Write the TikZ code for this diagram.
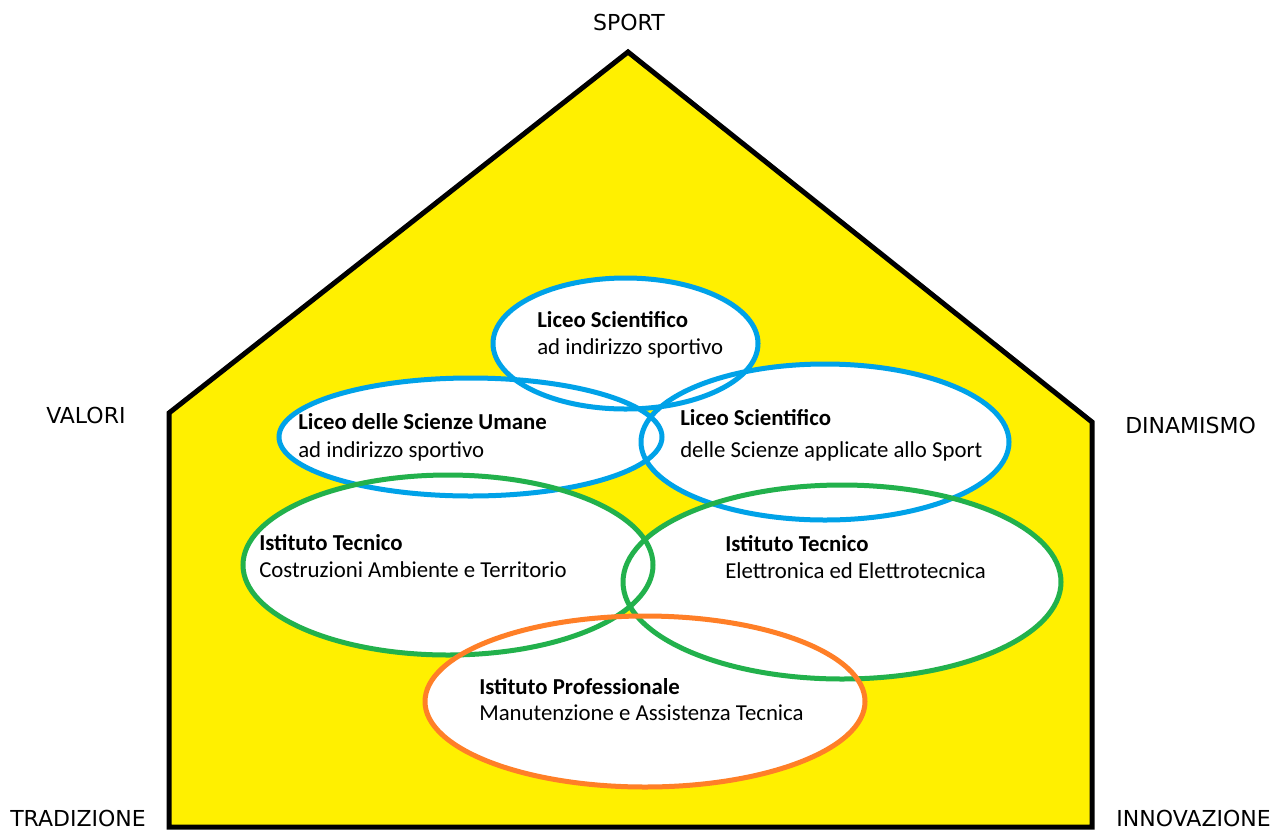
\documentclass[tikz,border=0pt]{standalone}
\usepackage{fontspec}
\setmainfont{Carlito}
\newfontfamily\etichettafont{DejaVu Sans}
\usepackage{tikz}
\usetikzlibrary{positioning}
\definecolor{giallo}{HTML}{FFF000}
\definecolor{blu}{HTML}{00A2E8}
\definecolor{verde}{HTML}{22B14C}
\definecolor{arancio}{HTML}{FF7F27}
\tikzset{titolo/.style={anchor=base west,inner sep=0pt,font=\fontsize{17.1}{20}\selectfont\bfseries},
	 sotto/.style={anchor=base west,inner sep=0pt,font=\fontsize{17.1}{20}\selectfont},
	 etichetta/.style={inner sep=0pt,font=\etichettafont\fontsize{16.5}{19}\selectfont},
	 bordo/.style={line width=3.75pt},
	 node distance = 1
	 }

\begin{document}
\begin{tikzpicture}[x=0.75pt,y=-0.75pt] % casa dello sport
        \useasboundingbox (0,0) rectangle (1274,829);
        % casa
        \coordinate (basesx) at (169,827);
        \coordinate (murosx) at (169,413);
        \coordinate (tetto) at (628,52);
        \coordinate (murodx) at (1092,422);
        \coordinate (basedx) at (1092,827);
        \filldraw[fill=giallo,bordo,line join=miter] (basesx) -- (murosx) -- (tetto) -- (murodx) -- (basedx) -- cycle;
        % ellissi
        \foreach \cx/\cy/\rx/\ry/\col in {625.5/343.5/132.5/65.5/blu, 470.5/437/191.5/59/blu, 825/442/184/78/blu,
                448/565/205/90/verde, 842/582/219/97/verde, 645/701.5/220/85.5/arancio}
            \fill[white] (\cx,\cy) ellipse [x radius=\rx, y radius=\ry];
        \foreach \cx/\cy/\rx/\ry/\col in {625.5/343.5/132.5/65.5/blu, 470.5/437/191.5/59/blu, 825/442/184/78/blu,
                448/565/205/90/verde, 842/582/219/97/verde, 645/701.5/220/85.5/arancio}
            \draw[\col,bordo] (\cx,\cy) ellipse [x radius=\rx, y radius=\ry];
        % testi
        \node[titolo] (lsa) at (537,327) {Liceo Scientifico};
        \node[sotto] (lsb) at (537,354) {ad indirizzo sportivo};
        \node[titolo] (lua) at (298,429) {Liceo delle Scienze Umane};
        \node[sotto] (lub) at (298,457) {ad indirizzo sportivo};
        \node[titolo] (lsaa) at (680,425) {Liceo Scientifico};
        \node[sotto] (lsab) at (680,457) {delle Scienze applicate allo Sport};
        \node[titolo] (itca) at (259,550) {Istituto Tecnico};
        \node[sotto] (itcb) at (259,577) {Costruzioni Ambiente e Territorio};
        \node[titolo] (itea) at (725,551) {Istituto Tecnico};
        \node[sotto] (iteb) at (725,578) {Elettronica ed Elettrotecnica};
        \node[titolo] (ipa) at (479,694) {Istituto Professionale};
        \node[sotto] (ipb) at (479,720) {Manutenzione e Assistenza Tecnica};
        % etichette
        \node[etichetta,anchor=base] (sport) at (629,30) {SPORT};
        \node[etichetta,anchor=base west] (valori) at (46,423) {VALORI};
        \node[etichetta,anchor=base west] (dinamismo) at (1125,433) {DINAMISMO};
        \node[etichetta,anchor=base west] (tradizione) at (10,826) {TRADIZIONE};
        \node[etichetta,anchor=base east] (innovazione) at (1271,826) {INNOVAZIONE};
     \end{tikzpicture}
\end{document}
